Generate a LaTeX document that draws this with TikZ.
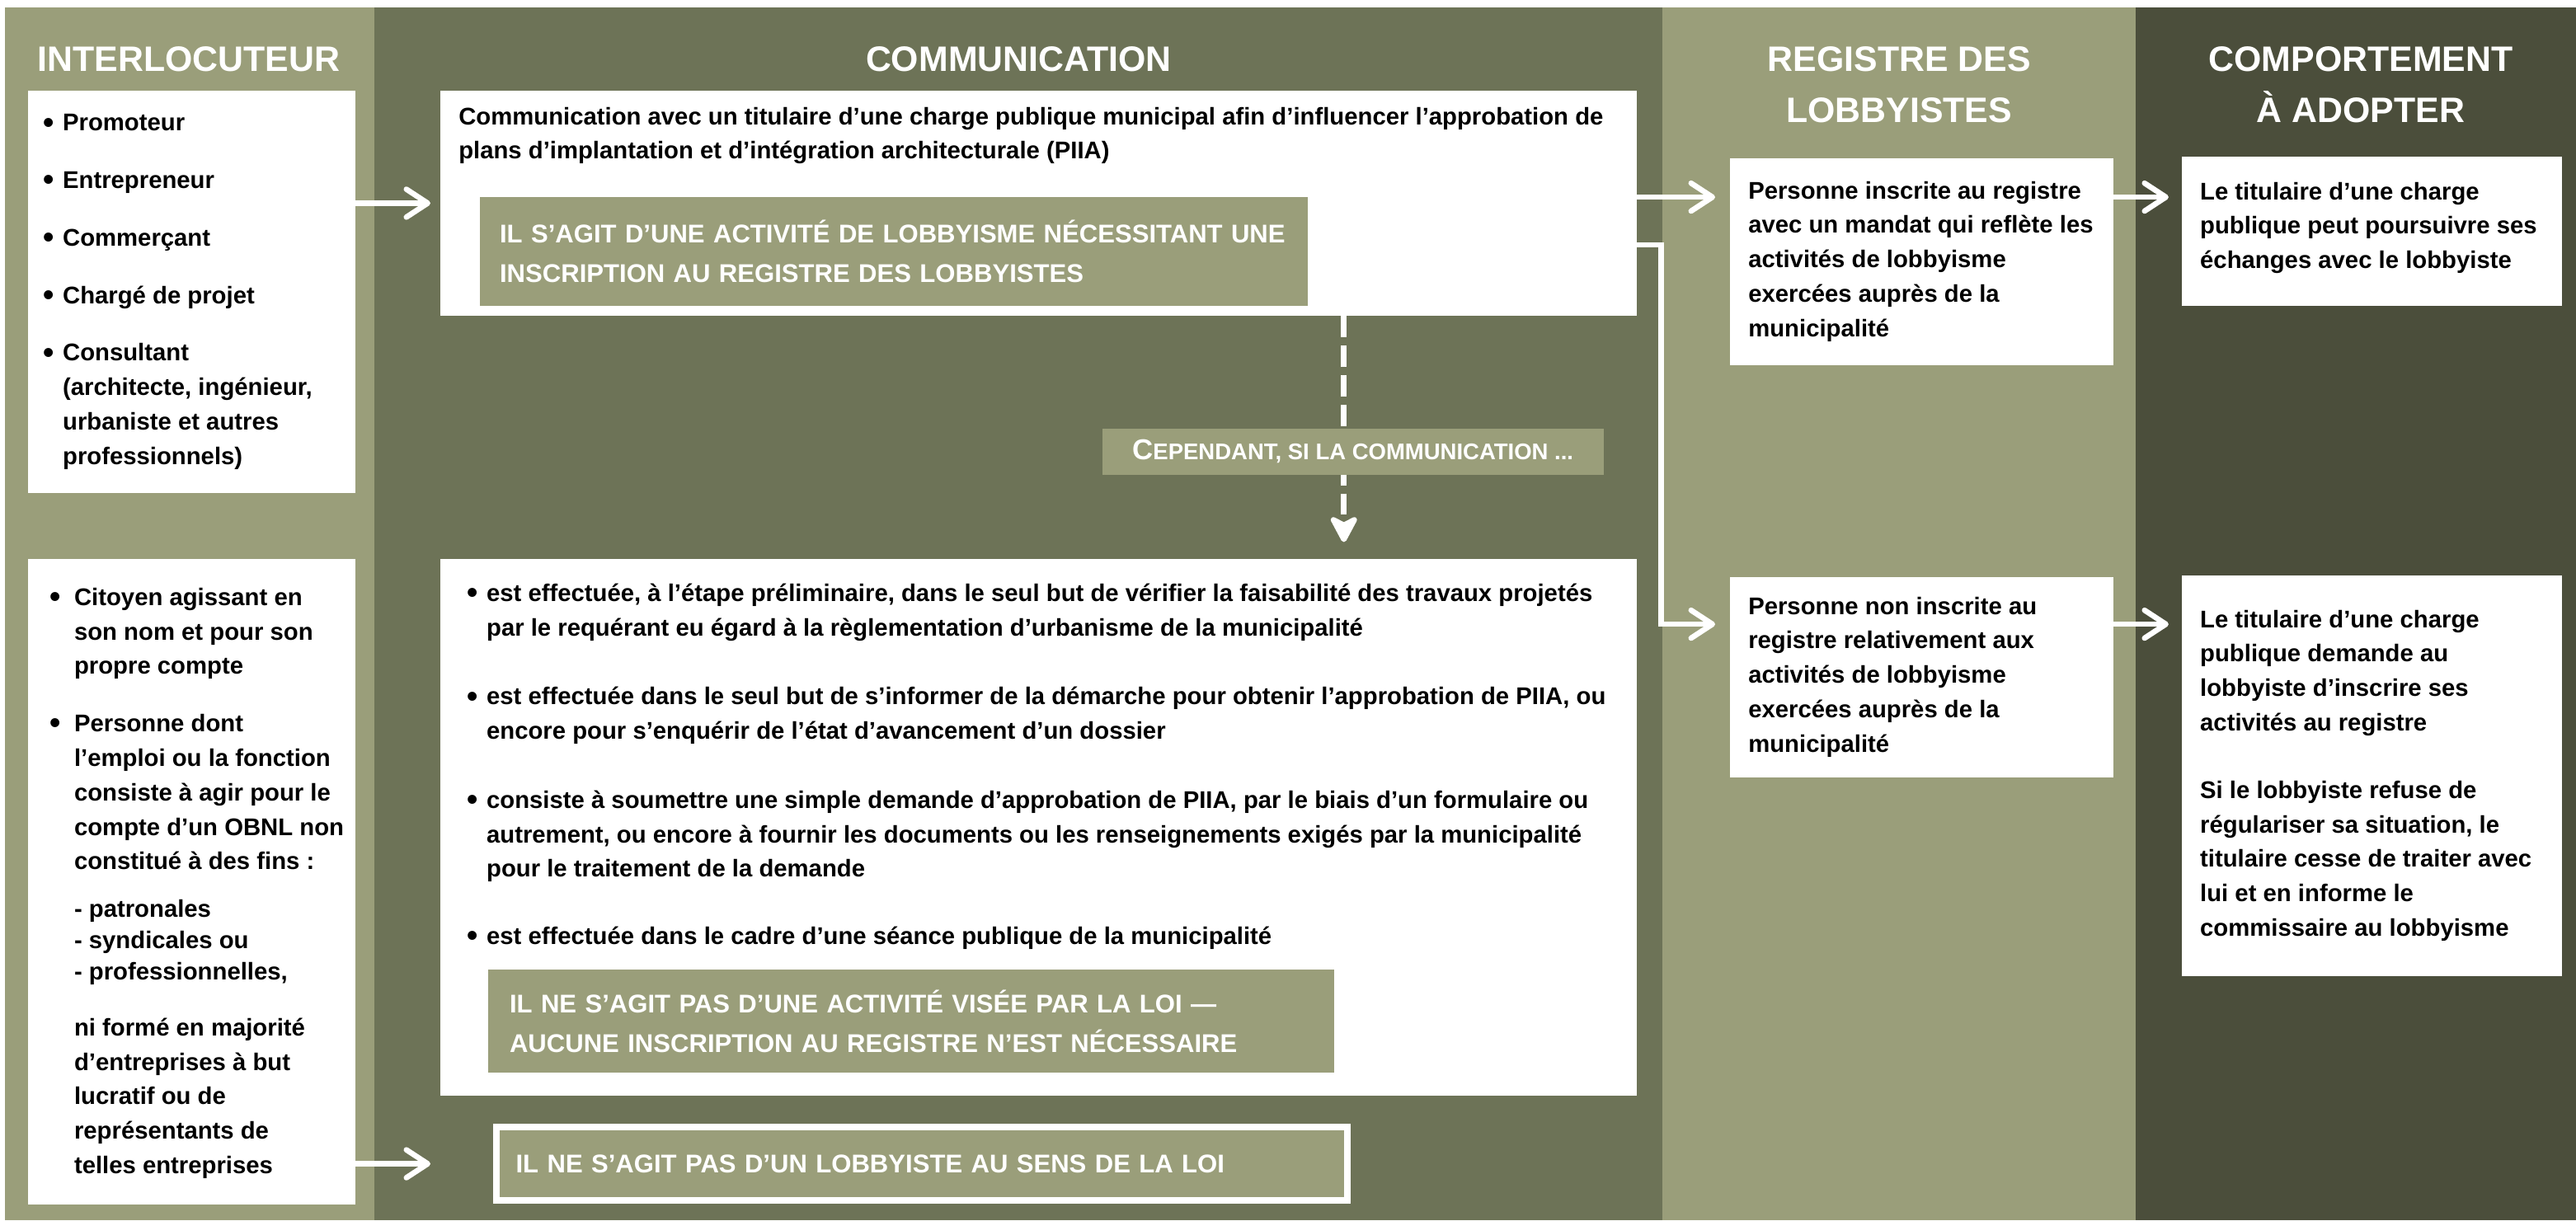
\documentclass[tikz,border=0pt]{standalone}
\usepackage{fontspec}
\setmainfont{Liberation Sans}
\usepackage{tikz}
\usetikzlibrary{arrows.meta,positioning,calc}

\definecolor{olivelight}{RGB}{154,158,122}
\definecolor{olivemid}{RGB}{109,115,87}
\definecolor{olivedark}{RGB}{75,78,59}

\newcommand{\bodyfont}{\fontsize{14.7}{21}\selectfont\bfseries}
\newcommand{\capsfont}{\fontsize{15.6}{24}\selectfont\bfseries}
\newcommand{\puce}[1]{\makebox[#1][l]{\raisebox{-1.2pt}{\fontsize{19}{0}\selectfont\textbullet}}}

\begin{document}
\begin{tikzpicture}[x=1pt,y=-1pt,
    header/.style={text=white,align=center,
        font=\fontsize{21.5}{31}\selectfont\bfseries},
    whitebox/.style={fill=white,anchor=north west,inner sep=0pt},
    boxtext/.style={anchor=west,inner sep=0pt,align=left,font=\bodyfont},
    olivebox/.style={fill=olivelight,text=white,anchor=north west,
        inner xsep=12pt,inner ysep=0pt,align=left,font=\capsfont},
    flow/.style={draw=white,line width=3.3pt,
        -{Straight Barb[length=13pt,width=17pt,round]}},
    dashflow/.style={draw=white,line width=3.3pt,dash pattern=on 13pt off 5pt,
        -{Stealth[length=19pt,width=20pt,inset=5pt,round]}}]

    \useasboundingbox (0,0) rectangle (1568,743);
    \fill[white] (0,0) rectangle (1568,743);

    % Columns
    \fill[olivelight] (3,4.5) rectangle (228,743);
    \fill[olivemid] (228,4.5) rectangle (1012,743);
    \fill[olivelight] (1012,4.5) rectangle (1300,743);
    \fill[olivedark] (1300,4.5) rectangle (1568,743);

    % Headers
    \node[header] (hinter) at (115,36) {INTERLOCUTEUR};
    \node[header] (hcomm) at (620,36) {COMMUNICATION};
    \node[header] (hreg) at (1156,51.5) {REGISTRE DES\\LOBBYISTES};
    \node[header] (hcomp) at (1437,51.5) {COMPORTEMENT\\À ADOPTER};

    % Interlocutors
    \node[whitebox,
    minimum width=199pt,
    minimum height=245pt] (interA) at (17,55) {};
    \node[boxtext,right=9pt of interA.west] (interAtxt) {
        \puce{12pt}Promoteur\\[14pt]
        \puce{12pt}Entrepreneur\\[14pt]
        \puce{12pt}Commerçant\\[14pt]
        \puce{12pt}Chargé de projet\\[14pt]
        \puce{12pt}Consultant\\
        \hspace*{12pt}(architecte, ingénieur,\\
        \hspace*{12pt}urbaniste et autres\\
        \hspace*{12pt}professionnels)};

    \node[whitebox,
    minimum width=199pt,
    minimum height=393pt] (interB) at (17,340) {};
    \node[boxtext,right=13pt of interB.west,yshift=-1pt] (interBtxt) {
        \puce{15pt}Citoyen agissant en\\
        \hspace*{15pt}son nom et pour son\\
        \hspace*{15pt}propre compte\\[14pt]
        \puce{15pt}Personne dont\\
        \hspace*{15pt}l’emploi ou la fonction\\
        \hspace*{15pt}consiste à agir pour le\\
        \hspace*{15pt}compte d’un OBNL non\\
        \hspace*{15pt}constitué à des fins :\\[8pt]
        \hspace*{15pt}- patronales\\[-2pt]
        \hspace*{15pt}- syndicales ou\\[-2pt]
        \hspace*{15pt}- professionnelles,\\[13pt]
        \hspace*{15pt}ni formé en majorité\\
        \hspace*{15pt}d’entreprises à but\\
        \hspace*{15pt}lucratif ou de\\
        \hspace*{15pt}représentants de\\
        \hspace*{15pt}telles entreprises};

    % Communication
    \node[whitebox,
    minimum width=728pt,
    minimum height=137pt] (commbox) at (268,55) {};

    \node[boxtext,anchor=north west] (commtxt) at (279,65)
    {Communication avec un titulaire d’une charge publique municipal afin d’influencer l’approbation de\\
        plans d’implantation et d’intégration architecturale (PIIA)};

    \node[olivebox,
    minimum width=504pt,
    minimum height=66pt,
    text width=480pt] (lobbyoui) at (292,120) {IL S’AGIT D’UNE ACTIVITÉ DE LOBBYISME NÉCESSITANT UNE\\
        INSCRIPTION AU REGISTRE DES LOBBYISTES};

    \node[whitebox,
    minimum width=728pt,
    minimum height=327pt] (detailbox) at (268,340) {};

    \node[boxtext,anchor=north west] (detailtxt) at (284,355)
    {\puce{12pt}est effectuée, à l’étape préliminaire, dans le seul but de vérifier la faisabilité des travaux projetés\\
        \hspace*{12pt}par le requérant eu égard à la règlementation d’urbanisme de la municipalité\\[21pt]
        \puce{12pt}est effectuée dans le seul but de s’informer de la démarche pour obtenir l’approbation de PIIA, ou\\
        \hspace*{12pt}encore pour s’enquérir de l’état d’avancement d’un dossier\\[21pt]
        \puce{12pt}consiste à soumettre une simple demande d’approbation de PIIA, par le biais d’un formulaire ou\\
        \hspace*{12pt}autrement, ou encore à fournir les documents ou les renseignements exigés par la municipalité\\
        \hspace*{12pt}pour le traitement de la demande\\[20pt]
        \puce{12pt}est effectuée dans le cadre d’une séance publique de la municipalité};

    \node[olivebox,
    minimum width=515pt,
    minimum height=63pt,
    inner xsep=13pt,
    text width=489pt] (lobbynon) at (297,590) {IL NE S’AGIT PAS D’UNE ACTIVITÉ VISÉE PAR LA LOI —\\
        AUCUNE INSCRIPTION AU REGISTRE N’EST NÉCESSAIRE};

    \node[olivebox,
    draw=white,
    line width=4pt,
    minimum width=518pt,
    minimum height=45pt,
    text width=494pt] (nonlobby) at (300,684) {IL NE S’AGIT PAS D’UN LOBBYISTE AU SENS DE LA LOI};

    % Registre
    \node[whitebox,
    minimum width=233pt,
    minimum height=126pt] (inscrit) at (1053,96) {};
    \node[boxtext,right=11pt of inscrit.west] (inscrittxt) {Personne inscrite au registre\\
        avec un mandat qui reflète les\\
        activités de lobbyisme\\
        exercées auprès de la\\
        municipalité};

    \node[whitebox,
    minimum width=233pt,
    minimum height=122pt] (noninscrit) at (1053,351) {};
    \node[boxtext,right=11pt of noninscrit.west] (noninscrittxt) {Personne non inscrite au\\
        registre relativement aux\\
        activités de lobbyisme\\
        exercées auprès de la\\
        municipalité};

    % Comportement
    \node[whitebox,
    minimum width=231pt,
    minimum height=91pt] (poursuite) at (1328,95) {};
    \node[boxtext,right=11pt of poursuite.west,yshift=2pt] (poursuitetxt) {Le titulaire d’une charge\\
        publique peut poursuivre ses\\
        échanges avec le lobbyiste};

    \node[whitebox,
    minimum width=231pt,
    minimum height=244pt] (demande) at (1328,350) {};
    \node[boxtext,right=11pt of demande.west] (demandetxt) {Le titulaire d’une charge\\
        publique demande au\\
        lobbyiste d’inscrire ses\\
        activités au registre\\[20pt]
        Si le lobbyiste refuse de\\
        régulariser sa situation, le\\
        titulaire cesse de traiter avec\\
        lui et en informe le\\
        commissaire au lobbyisme};

    % Arrows
    \coordinate (toprow) at (0,120);
    \coordinate (lowrow) at (0,380);
    \coordinate (bend) at (1011,149);
    \coordinate (dashx) at (818,0);

    \draw[flow,shorten >=6pt] (interA.east |- commbox.west) -- (commbox.west);
    \draw[flow,shorten >=38pt] (interB.east |- nonlobby.west) -- (nonlobby.west);
    \draw[flow,shorten >=9pt] (commbox.east |- toprow) -- (inscrit.west |- toprow);
    \draw[flow,shorten >=9pt] (commbox.east |- bend) -- (bend) |- (noninscrit.west |- lowrow);
    \draw[flow,shorten >=8pt] (inscrit.east |- toprow) -- (poursuite.west |- toprow);
    \draw[flow,shorten >=8pt] (noninscrit.east |- lowrow) -- (demande.west |- lowrow);
    \draw[dashflow,shorten >=10pt] (commbox.south -| dashx) -- (detailbox.north -| dashx);

    \node[fill=olivelight,text=white,inner sep=0pt,
    minimum width=305pt,
    minimum height=28pt,
    font=\bfseries] (cependant) at (823.5,275) {{\fontsize{17.5}{18}\selectfont C}{\fontsize{13.8}{18}\selectfont EPENDANT, SI LA COMMUNICATION ...}};
\end{tikzpicture}
\end{document}
